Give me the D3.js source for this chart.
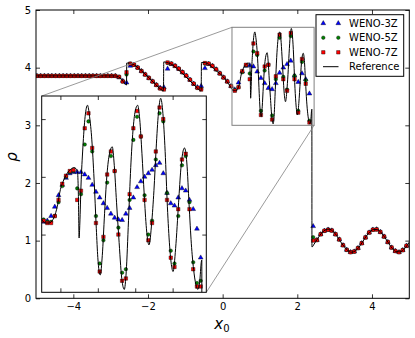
<!DOCTYPE html>
<html>
<head>
<meta charset="utf-8">
<script src="https://cdn.jsdelivr.net/npm/d3@7"></script>
<style>
  body { margin: 0; background: #fff; }
  text { font-family: "DejaVu Sans", sans-serif; }
</style>
</head>
<body>
<svg id="chart" width="415" height="338"></svg>
<script>
// cell grids (coarse outside the zoom window, fine inside it)
const xLeft = d3.range(53).map(i => -4.975 + 0.1 * i);
const xZoom = d3.range(44).map(j => 0.275 + 0.05 * j);
const xRight = d3.range(25).map(k => 2.525 + 0.1 * k);

const weno3Left = [
  3.857, 3.857, 3.857, 3.857, 3.857, 3.857, 3.857, 3.857, 3.857, 3.857,
  3.857, 3.857, 3.857, 3.857, 3.857, 3.857, 3.857, 3.857, 3.857, 3.857,
  3.857, 3.855, 3.83, 3.77, 3.74, 4.03, 4.05, 4.00, 3.94, 3.88,
  3.82, 3.76, 3.70, 3.65, 3.66, 3.98, 4.06, 4.03, 3.98, 3.92,
  3.86, 3.79, 3.72, 3.66, 3.68, 3.99, 4.06, 4.03, 3.97, 3.90,
  3.83, 3.76, 3.68
];
const weno5Left = [
  3.857, 3.857, 3.857, 3.857, 3.857, 3.857, 3.857, 3.857, 3.857, 3.857,
  3.857, 3.857, 3.857, 3.857, 3.857, 3.857, 3.857, 3.857, 3.857, 3.857,
  3.857, 3.857, 3.84, 3.76, 3.88, 4.07, 4.05, 4.00, 3.94, 3.88,
  3.82, 3.76, 3.70, 3.64, 3.63, 4.08, 4.07, 4.03, 3.98, 3.92,
  3.86, 3.79, 3.72, 3.65, 3.63, 4.07, 4.07, 4.03, 3.97, 3.90,
  3.83, 3.76, 3.68
];
const weno7Left = [
  3.857, 3.857, 3.857, 3.857, 3.857, 3.857, 3.857, 3.857, 3.857, 3.857,
  3.857, 3.857, 3.857, 3.857, 3.857, 3.857, 3.857, 3.857, 3.857, 3.857,
  3.857, 3.857, 3.84, 3.76, 3.92, 4.07, 4.05, 4.00, 3.94, 3.88,
  3.82, 3.76, 3.70, 3.64, 3.62, 4.09, 4.07, 4.03, 3.98, 3.92,
  3.86, 3.79, 3.72, 3.65, 3.62, 4.08, 4.07, 4.03, 3.97, 3.90,
  3.83, 3.76, 3.68
];

const weno3Zoom = [
  3.61, 3.62, 3.66, 3.74, 3.84, 3.93, 3.99, 4.03, 4.04, 4.04,
  4.04, 4.02, 3.99, 3.93, 3.87, 3.82, 3.77, 3.73, 3.68, 3.645,
  3.63, 3.625, 3.68, 3.73, 3.82, 3.91, 3.96, 4.00, 4.03, 4.06,
  4.10, 4.12, 4.03, 3.86, 3.77, 3.75, 3.82, 3.90, 3.88, 3.80,
  3.72, 3.55, 3.30, 1.25
];
const weno5Zoom = [
  3.63, 3.61, 3.61, 3.66, 3.78, 3.92, 4.00, 4.04, 4.05, 3.90,
  3.85, 4.28, 4.48, 4.22, 3.66, 3.25, 3.45, 3.95, 4.18, 4.05,
  3.56, 3.17, 3.20, 3.80, 4.32, 4.52, 4.35, 3.84, 3.50, 3.62,
  4.15, 4.55, 4.48, 3.86, 3.36, 3.25, 3.66, 4.10, 4.18, 3.78,
  3.26, 3.08, 3.10, 1.06
];
const weno7Zoom = [
  3.62, 3.60, 3.60, 3.66, 3.80, 3.94, 4.01, 4.05, 4.06, 3.80,
  3.88, 4.42, 4.55, 4.25, 3.60, 3.18, 3.48, 4.02, 4.22, 4.05,
  3.50, 3.10, 3.12, 3.85, 4.42, 4.57, 4.35, 3.80, 3.45, 3.60,
  4.22, 4.60, 4.50, 3.80, 3.30, 3.22, 3.72, 4.15, 4.20, 3.72,
  3.20, 3.05, 3.05, 1.00
];

const weno3Right = [
  1.01, 1.11, 1.17, 1.19, 1.175, 1.11, 1.02, 0.92, 0.84, 0.80,
  0.81, 0.87, 0.955, 1.055, 1.14, 1.19, 1.195, 1.15, 1.07, 0.975,
  0.88, 0.82, 0.80, 0.835, 0.91
];
const weno5Right = weno3Right.slice();
const weno7Right = weno3Right.slice();

const refX = [
  -5, -2.9, -2.8, -2.7, -2.62, -2.585, -2.575, -2.57, -2.5, -2.4,
  -2.2, -2.0, -1.8, -1.65, -1.6, -1.585, -1.578, -1.5, -1.4, -1.2,
  -1.0, -0.8, -0.65, -0.6, -0.575, -0.568, -0.5, -0.4, -0.2, 0.0,
  0.2, 0.25, 0.30, 0.35, 0.40, 0.45, 0.50, 0.55, 0.60, 0.65,
  0.68, 0.71, 0.73, 0.74, 0.75, 0.76, 0.775, 0.80, 0.83, 0.862,
  0.89, 0.92, 0.95, 0.98, 1.00, 1.032, 1.06, 1.09, 1.12, 1.15,
  1.193, 1.22, 1.25, 1.28, 1.32, 1.354, 1.38, 1.41, 1.44, 1.47,
  1.50, 1.532, 1.56, 1.59, 1.62, 1.65, 1.684, 1.72, 1.75, 1.78,
  1.81, 1.84, 1.87, 1.90, 1.93, 1.96, 2.006, 2.04, 2.08, 2.11,
  2.158, 2.19, 2.22, 2.25, 2.28, 2.31, 2.337, 2.36, 2.385, 2.39,
  2.392, 2.45, 2.55, 2.65, 2.75, 2.85, 2.95, 3.05, 3.15, 3.25,
  3.35, 3.45, 3.55, 3.65, 3.75, 3.85, 3.95, 4.05, 4.15, 4.25,
  4.35, 4.45, 4.55, 4.65, 4.75, 4.85, 4.95, 5.0
];
const refRho = [
  3.857, 3.857, 3.845, 3.79, 3.72, 3.70, 3.70, 4.08, 4.08, 4.06,
  3.96, 3.84, 3.71, 3.62, 3.60, 3.60, 4.10, 4.09, 4.07, 3.97,
  3.85, 3.72, 3.63, 3.60, 3.60, 4.09, 4.09, 4.07, 3.96, 3.85,
  3.68, 3.63, 3.60, 3.60, 3.63, 3.72, 3.89, 3.98, 4.04, 4.07,
  4.08, 4.07, 4.03, 3.85, 3.47, 3.60, 3.92, 4.25, 4.52, 4.62,
  4.52, 4.32, 3.98, 3.55, 3.30, 3.15, 3.32, 3.68, 4.00, 4.18,
  4.26, 4.10, 3.78, 3.48, 3.12, 3.025, 3.18, 3.62, 4.08, 4.40,
  4.57, 4.62, 4.50, 4.20, 3.85, 3.55, 3.41, 3.60, 3.88, 4.25,
  4.55, 4.68, 4.55, 4.22, 3.74, 3.40, 3.18, 3.38, 3.78, 4.07,
  4.25, 4.12, 3.76, 3.42, 3.20, 3.07, 3.025, 3.08, 3.27, 3.28,
  0.89, 0.94, 1.04, 1.13, 1.185, 1.20, 1.165, 1.09, 0.99, 0.90,
  0.83, 0.80, 0.82, 0.885, 0.98, 1.08, 1.155, 1.195, 1.19, 1.135,
  1.05, 0.95, 0.86, 0.81, 0.805, 0.845, 0.925, 0.975
];

const xTicksMain = [-4, -2, 0, 2, 4];
const yTicksMain = [0, 1, 2, 3, 4, 5];
const xTicksInset = [0.5, 1.0, 1.5, 2.0];
const yTicksInset = [3.5, 4.0, 4.5];
const zoomWindow = { x: [0.25, 2.45], y: [3, 4.7] };

const series = [
  { name: 'WENO-3Z', left: weno3Left, zoom: weno3Zoom, right: weno3Right,
    symbol: d3.symbolTriangle, size: 10, color: '#0000ff' },
  { name: 'WENO-5Z', left: weno5Left, zoom: weno5Zoom, right: weno5Right,
    symbol: d3.symbolCircle, size: 10, color: '#008000' },
  { name: 'WENO-7Z', left: weno7Left, zoom: weno7Zoom, right: weno7Right,
    symbol: d3.symbolSquare, size: 12, color: '#ff0000' }
];

const svg = d3.select('#chart');

const x = d3.scaleLinear().domain([-5, 5]).range([36, 409.3]);
const y = d3.scaleLinear().domain([0, 5]).range([298.3, 10]);
const xi = d3.scaleLinear().domain(zoomWindow.x).range([41.7, 206.3]);
const yi = d3.scaleLinear().domain(zoomWindow.y).range([292.3, 96]);

const defs = svg.append('defs');
function addClip(id, xs, ys) {
  defs.append('clipPath').attr('id', id).append('rect')
    .attr('x', xs.range()[0]).attr('y', ys.range()[1])
    .attr('width', xs.range()[1] - xs.range()[0])
    .attr('height', ys.range()[0] - ys.range()[1]);
}
addClip('clip-main', x, y);
addClip('clip-inset', xi, yi);

function drawMarkers(g, pts, xs, ys, s) {
  g.append('g').selectAll('path').data(pts).join('path')
    .attr('transform', d => `translate(${xs(d[0])},${ys(d[1])})`)
    .attr('d', d3.symbol(s.symbol, s.size))
    .attr('fill', s.color)
    .attr('stroke', '#000')
    .attr('stroke-width', 0.4);
}

function drawReference(g, xs, ys) {
  const line = d3.line()
    .x(d => xs(d[0]))
    .y(d => ys(d[1]))
    .curve(d3.curveMonotoneX);
  g.append('path')
    .datum(refX.map((v, i) => [v, refRho[i]]))
    .attr('d', line)
    .attr('fill', 'none')
    .attr('stroke', '#000')
    .attr('stroke-width', 1);
}

function drawFrame(xs, ys, xTicks, yTicks, labels) {
  const fmt = labels ? d3.format('d') : () => '';
  const tick = 4;
  const axes = [
    [d3.axisBottom(xs).tickValues(xTicks), `translate(0,${ys.range()[0]})`],
    [d3.axisTop(xs).tickValues(xTicks).tickFormat(() => ''), `translate(0,${ys.range()[1]})`],
    [d3.axisLeft(ys).tickValues(yTicks), `translate(${xs.range()[0]},0)`],
    [d3.axisRight(ys).tickValues(yTicks).tickFormat(() => ''), `translate(${xs.range()[1]},0)`]
  ];
  axes.forEach(([ax, tr], k) => {
    if (k < 1 || k === 2) ax.tickFormat(fmt);
    const g = svg.append('g').attr('transform', tr)
      .call(ax.tickSize(-tick).tickPadding(5));
    g.select('.domain').remove();
    g.selectAll('line').attr('stroke', '#000').attr('stroke-width', 0.8);
    g.selectAll('text').attr('font-size', '10px').attr('fill', '#000')
      .attr('font-family', '"DejaVu Sans", sans-serif');
  });
  svg.append('rect')
    .attr('x', xs.range()[0]).attr('y', ys.range()[1])
    .attr('width', xs.range()[1] - xs.range()[0])
    .attr('height', ys.range()[0] - ys.range()[1])
    .attr('fill', 'none').attr('stroke', '#000').attr('stroke-width', 1);
}

// main axes
svg.append('rect').attr('width', 415).attr('height', 338).attr('fill', '#fff');
const main = svg.append('g').attr('clip-path', 'url(#clip-main)');
series.forEach(s => {
  const pts = xLeft.map((v, i) => [v, s.left[i]])
    .concat(xZoom.map((v, j) => [v, s.zoom[j]]).filter((d, j) => j % 2 === 1))
    .concat(xRight.map((v, k) => [v, s.right[k]]));
  drawMarkers(main, pts, x, y, s);
});
drawReference(main, x, y);
drawFrame(x, y, xTicksMain, yTicksMain, true);

// zoom indicator and connectors
svg.append('rect')
  .attr('x', x(zoomWindow.x[0])).attr('y', y(zoomWindow.y[1]))
  .attr('width', x(zoomWindow.x[1]) - x(zoomWindow.x[0]))
  .attr('height', y(zoomWindow.y[0]) - y(zoomWindow.y[1]))
  .attr('fill', 'none').attr('stroke', '#808080').attr('stroke-width', 1);
svg.append('line')
  .attr('x1', x(zoomWindow.x[0])).attr('y1', y(zoomWindow.y[1]))
  .attr('x2', xi.range()[0]).attr('y2', yi.range()[1])
  .attr('stroke', '#808080').attr('stroke-width', 0.8);
svg.append('line')
  .attr('x1', x(zoomWindow.x[1])).attr('y1', y(zoomWindow.y[0]))
  .attr('x2', xi.range()[1]).attr('y2', yi.range()[0])
  .attr('stroke', '#808080').attr('stroke-width', 0.8);

// inset axes
svg.append('rect')
  .attr('x', xi.range()[0]).attr('y', yi.range()[1])
  .attr('width', xi.range()[1] - xi.range()[0])
  .attr('height', yi.range()[0] - yi.range()[1])
  .attr('fill', '#fff');
const inset = svg.append('g').attr('clip-path', 'url(#clip-inset)');
series.forEach(s => {
  drawMarkers(inset, xZoom.map((v, j) => [v, s.zoom[j]]), xi, yi, s);
});
drawReference(inset, xi, yi);
drawFrame(xi, yi, xTicksInset, yTicksInset, false);

// axis labels
svg.append('text')
  .attr('transform', 'translate(17,157) rotate(-90)')
  .attr('text-anchor', 'middle')
  .attr('font-family', '"DejaVu Serif", serif')
  .attr('font-style', 'italic')
  .attr('font-size', '15px')
  .text('ρ');
const xl = svg.append('text')
  .attr('x', 222).attr('y', 329)
  .attr('text-anchor', 'middle')
  .attr('font-family', '"DejaVu Serif", serif')
  .attr('font-size', '15px');
xl.append('tspan').attr('font-style', 'italic').text('x');
xl.append('tspan').attr('font-size', '10px').attr('dy', 3).text('0');

// legend
const legend = svg.append('g').attr('transform', 'translate(316,14.7)');
legend.append('rect')
  .attr('width', 87.7).attr('height', 61.6)
  .attr('fill', '#fff').attr('stroke', '#000').attr('stroke-width', 1);
const rowY = [8.6, 23, 37.6, 52];
series.forEach((s, i) => {
  drawMarkers(legend, [[7.3, rowY[i]], [22.3, rowY[i]]], d => d, d => d, s);
  legend.append('text')
    .attr('x', 33).attr('y', rowY[i] + 3.6)
    .attr('font-size', '10px')
    .text(s.name);
});
legend.append('line')
  .attr('x1', 7).attr('x2', 22.5)
  .attr('y1', rowY[3]).attr('y2', rowY[3])
  .attr('stroke', '#000').attr('stroke-width', 1);
legend.append('text')
  .attr('x', 33).attr('y', rowY[3] + 3.6)
  .attr('font-size', '10px')
  .text('Reference');
</script>
</body>
</html>
